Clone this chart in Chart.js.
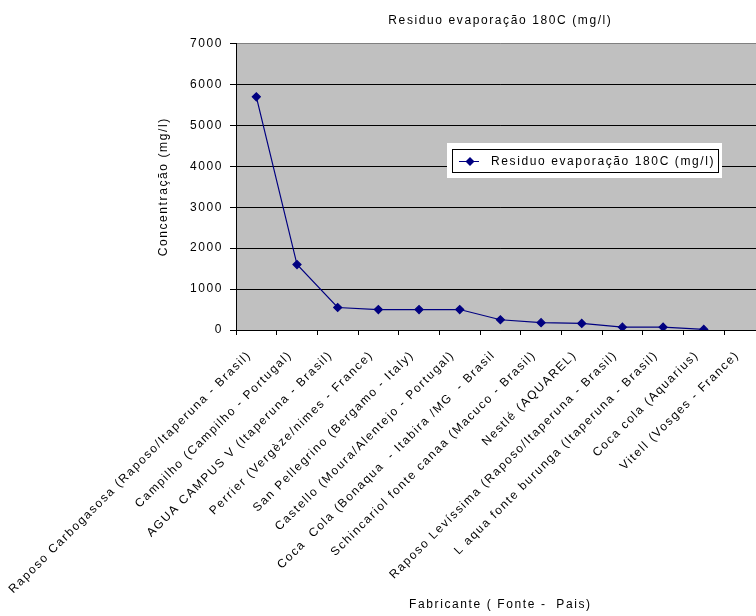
<!DOCTYPE html>
<html>
<head>
<meta charset="utf-8">
<script src="https://cdn.jsdelivr.net/npm/chart.js@4/dist/chart.umd.min.js"></script>
<style>
  html, body { margin: 0; padding: 0; background: #fff; overflow: hidden; }
  #chartJSContainer { display: block; }
</style>
</head>
<body>
<canvas id="chartJSContainer" width="770" height="616"></canvas>
<script>
// fabricantes (fonte - país)
const fabricantes = [
    'Raposo Carbogasosa (Raposo/Itaperuna - Brasil)',
    'Campilho (Campilho - Portugal)',
    'AGUA CAMPUS V (Itaperuna - Brasil)',
    'Perrier (Vergèze/nimes - France)',
    'San Pellegrino (Bergamo - Italy)',
    'Castello (Moura/Alentejo - Portugal)',
    'Coca  Cola (Bonaqua  - Itabira /MG  - Brasil',
    'Schincariol fonte canaa (Macuco - Brasil)',
    'Nestlé (AQUAREL)',
    'Raposo Levíssima (Raposo/Itaperuna - Brasil)',
    'L aqua fonte burunga (Itaperuna - Brasil)',
    'Coca cola (Aquarius)',
    'Vitell (Vosges - France)'
]
// mg/l, Vitell sem valor
const residuo = [5700, 1600, 550, 500, 500, 500, 250, 180, 160, 70, 70, 15, null]
const yTicks = [0, 1000, 2000, 3000, 4000, 5000, 6000, 7000]

const serieLabel = 'Residuo evaporação 180C (mg/l)'
const NAVY = '#000080'
const FONT = "'Liberation Sans', Arial, sans-serif"
const SPACING = '1.6px'

Chart.defaults.font.family = FONT
Chart.defaults.font.size = 12
Chart.defaults.color = '#000'

// texto mais largo, igual ao do excel
const wideText = {
    id: 'wideText',
    beforeDraw(chart) {
        chart.ctx.letterSpacing = SPACING
    }
}

// fundo cinza so na area de plotagem
const plotBackground = {
    id: 'plotBackground',
    beforeDraw(chart) {
        const { ctx, chartArea } = chart
        ctx.save()
        ctx.fillStyle = '#c0c0c0'
        ctx.fillRect(chartArea.left, chartArea.top, chartArea.right - chartArea.left, chartArea.bottom - chartArea.top)
        ctx.restore()
    }
}

// legenda desenhada dentro da area do grafico
const legendBox = {
    id: 'legendBox',
    afterDraw(chart) {
        const ctx = chart.ctx
        ctx.save()
        ctx.fillStyle = '#fff'
        ctx.fillRect(447, 143, 275, 35)
        ctx.strokeStyle = '#000'
        ctx.lineWidth = 1
        ctx.strokeRect(452.5, 149.5, 266, 23)
        ctx.strokeStyle = NAVY
        ctx.beginPath()
        ctx.moveTo(459, 161.5)
        ctx.lineTo(479, 161.5)
        ctx.stroke()
        ctx.fillStyle = NAVY
        ctx.beginPath()
        ctx.moveTo(470, 157)
        ctx.lineTo(474.5, 161.5)
        ctx.lineTo(470, 166)
        ctx.lineTo(465.5, 161.5)
        ctx.closePath()
        ctx.fill()
        ctx.fillStyle = '#000'
        ctx.font = '12px ' + FONT
        ctx.letterSpacing = SPACING
        ctx.textBaseline = 'middle'
        ctx.fillText(serieLabel, 491, 162)
        ctx.restore()
    }
}

let options = {
    type: 'line',
    data: {
        labels: fabricantes,
        datasets: [{
            label: serieLabel,
            data: residuo,
            fill: false,
            tension: 0,
            borderWidth: 1.2,
            borderColor: NAVY,
            backgroundColor: NAVY,
            pointStyle: 'rectRot',
            pointRadius: 4,
            pointBackgroundColor: NAVY,
            pointBorderColor: NAVY,
        }]
    },
    options: {
        responsive: false,
        animation: false,
        devicePixelRatio: 1,
        layout: {
            padding: { left: 150, right: 4, top: 0, bottom: 0 }
        },
        plugins: {
            legend: { display: false },
            tooltip: { enabled: false },
            title: {
                display: true,
                text: serieLabel,
                fullSize: false,
                font: { size: 12, weight: 'normal' },
                color: '#000',
                padding: { top: 13, bottom: 16.2 }
            }
        },
        scales: {
            x: {
                type: 'category',
                offset: true,
                afterFit: (s) => { s.height = 286 },
                grid: {
                    offset: true,
                    drawOnChartArea: false,
                    drawTicks: true,
                    tickLength: 5,
                    tickColor: '#000'
                },
                border: { color: '#000', width: 1 },
                ticks: {
                    autoSkip: false,
                    maxRotation: 45,
                    minRotation: 45,
                    padding: 13,
                    labelOffset: -7,
                    font: { size: 12 },
                    color: '#000'
                },
                title: {
                    display: true,
                    text: 'Fabricante ( Fonte -  Pais)',
                    font: { size: 12 },
                    color: '#000',
                    padding: { top: 0, bottom: 4 }
                }
            },
            y: {
                min: 0,
                max: 7000,
                afterFit: (s) => { s.width = 86 },
                afterBuildTicks: (s) => { s.ticks = yTicks.map(v => ({ value: v })) },
                grid: {
                    color: (c) => c.tick && c.tick.value === 7000 ? '#808080' : '#000',
                    tickColor: '#000',
                    tickLength: 6,
                    lineWidth: 1
                },
                border: { color: '#000', width: 1 },
                ticks: {
                    padding: 7,
                    font: { size: 12 },
                    color: '#000',
                    callback: (v) => String(v)
                },
                title: {
                    display: true,
                    text: 'Concentração (mg/l)',
                    font: { size: 12 },
                    color: '#000',
                    padding: { top: 6, bottom: 0 }
                }
            }
        }
    },
    plugins: [wideText, plotBackground, legendBox]
}

let ctx = document.getElementById('chartJSContainer').getContext('2d')
window.chart = new Chart(ctx, options)
</script>
</body>
</html>
